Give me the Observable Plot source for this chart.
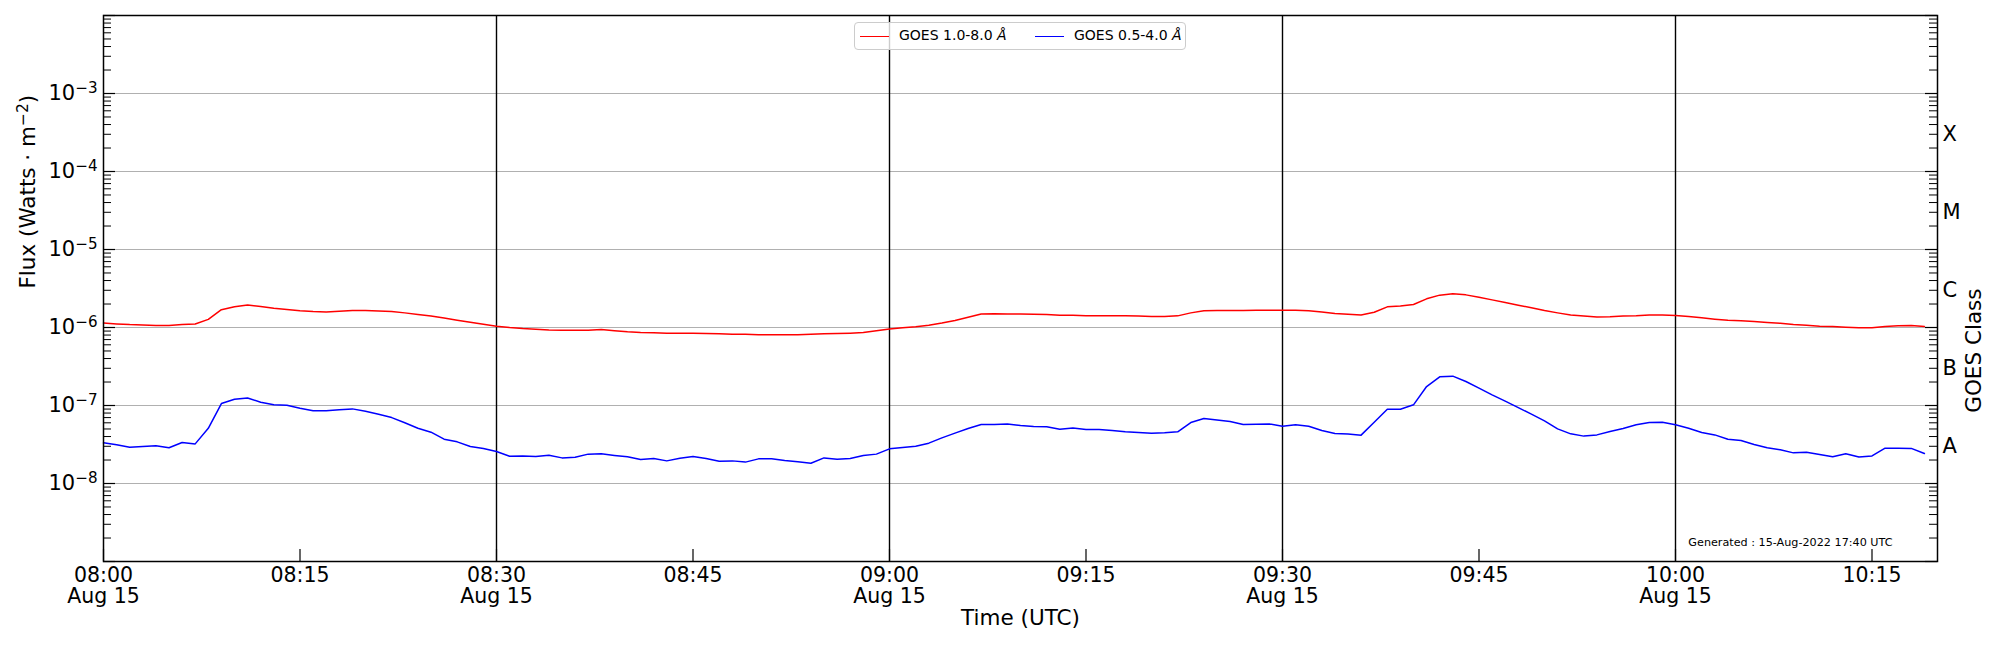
<!DOCTYPE html>
<html>
<head>
<meta charset="utf-8">
<script src="https://cdn.jsdelivr.net/npm/d3@7"></script>
<script src="https://cdn.jsdelivr.net/npm/@observablehq/plot@0.6"></script>
<style>
  body { margin: 0; background: #fff; font-family: "DejaVu Sans", sans-serif; }
  #wrap { position: relative; width: 2000px; height: 650px; }
  #legend {
    position: absolute; left: 854px; top: 22px; width: 330px; height: 26px;
    border: 1px solid #cccccc; border-radius: 4px; background: rgba(255,255,255,0.8);
    font-family: "DejaVu Sans", sans-serif; font-size: 14px; color: #000;
  }
  #legend .sw { position: absolute; top: 13px; width: 29px; height: 0; border-top: 1.5px solid; }
  #legend .lb { position: absolute; top: 4px; white-space: nowrap; line-height: 17px; }
</style>
</head>
<body>
<div id="wrap"></div>
<script>
// ---- data ----
const startTime = "2022-08-15T08:00:00Z";
const endTime = "2022-08-15T10:20:00Z";
const cadenceMs = 60000; // 1-minute GOES averages

// GOES 1.0-8.0 Å, in units of 1e-6 W/m^2
const longFluxE6 = [
  1.14,1.11,1.09,1.08,1.06,1.06,1.09,1.11,1.27,1.69,
  1.85,1.94,1.86,1.76,1.70,1.64,1.60,1.58,1.61,1.65,
  1.65,1.63,1.60,1.54,1.47,1.40,1.32,1.24,1.17,1.10,
  1.04,1.00,0.97,0.95,0.93,0.92,0.92,0.92,0.94,0.91,
  0.88,0.86,0.855,0.845,0.845,0.845,0.837,0.83,0.82,0.82,
  0.81,0.81,0.81,0.81,0.82,0.83,0.837,0.845,0.86,0.91,
  0.96,0.99,1.02,1.07,1.14,1.23,1.35,1.49,1.50,1.49,
  1.49,1.48,1.47,1.44,1.44,1.41,1.41,1.41,1.41,1.40,
  1.38,1.38,1.41,1.54,1.64,1.65,1.65,1.65,1.67,1.67,
  1.67,1.67,1.64,1.58,1.51,1.48,1.45,1.57,1.84,1.88,
  1.97,2.33,2.60,2.70,2.62,2.45,2.26,2.09,1.93,1.79,
  1.65,1.54,1.45,1.40,1.36,1.37,1.40,1.41,1.45,1.45,
  1.43,1.38,1.33,1.28,1.24,1.22,1.19,1.16,1.13,1.09,
  1.07,1.04,1.03,1.01,0.99,0.99,1.03,1.05,1.06,1.03
];
// GOES 0.5-4.0 Å, in units of 1e-7 W/m^2
const shortFluxE7 = [
  0.332,0.313,0.292,0.298,0.305,0.287,0.335,0.322,0.51,1.06,
  1.20,1.25,1.10,1.02,1.01,0.92,0.855,0.855,0.88,0.905,
  0.846,0.774,0.70,0.60,0.51,0.455,0.37,0.342,0.298,0.281,
  0.257,0.224,0.226,0.222,0.23,0.213,0.217,0.238,0.24,0.229,
  0.22,0.203,0.209,0.195,0.211,0.222,0.209,0.193,0.195,0.188,
  0.207,0.207,0.197,0.19,0.182,0.213,0.205,0.209,0.229,0.238,
  0.278,0.29,0.30,0.329,0.385,0.442,0.507,0.57,0.57,0.58,
  0.554,0.538,0.533,0.497,0.513,0.493,0.493,0.478,0.46,0.45,
  0.442,0.446,0.46,0.605,0.681,0.65,0.624,0.57,0.576,0.58,
  0.543,0.565,0.543,0.478,0.438,0.43,0.417,0.611,0.897,0.897,
  1.02,1.75,2.33,2.38,2.03,1.67,1.37,1.14,0.94,0.774,
  0.636,0.502,0.433,0.405,0.42,0.464,0.507,0.565,0.605,0.611,
  0.565,0.51,0.45,0.42,0.37,0.356,0.316,0.287,0.27,0.247,
  0.252,0.235,0.22,0.24,0.218,0.226,0.284,0.284,0.282,0.242
];

const seriesNames = ["GOES 1.0-8.0 Å", "GOES 0.5-4.0 Å"];
const seriesColors = ["red", "blue"];

const yTickValues = [1e-8, 1e-7, 1e-6, 1e-5, 1e-4, 1e-3];
const yTickLabels = ["10⁻⁸", "10⁻⁷", "10⁻⁶", "10⁻⁵", "10⁻⁴", "10⁻³"];

const xTickTimes = ["08:00","08:15","08:30","08:45","09:00","09:15","09:30","09:45","10:00","10:15"];
const xTickLabels = ["08:00\nAug 15","08:15","08:30\nAug 15","08:45","09:00\nAug 15","09:15","09:30\nAug 15","09:45","10:00\nAug 15","10:15"];
const dividerTimes = ["08:30","09:00","09:30","10:00"];

const classLabels = ["X", "M", "C", "B", "A"];
const classLevels = [10 ** -3.5, 10 ** -4.5, 10 ** -5.5, 10 ** -6.5, 10 ** -7.5];

const yAxisTitle = "Flux (Watts · m⁻²)";
const xAxisTitle = "Time (UTC)";
const rightAxisTitle = "GOES Class";
const generatedNote = "Generated : 15-Aug-2022 17:40 UTC";

// ---- build ----
const t0 = new Date(startTime);
const t1 = new Date(endTime);
const at = (hm) => new Date(`2022-08-15T${hm}:00Z`);
const longRows = longFluxE6.map((v, i) => ({ time: new Date(+t0 + i * cadenceMs), flux: v * 1e-6 }));
const shortRows = shortFluxE7.map((v, i) => ({ time: new Date(+t0 + i * cadenceMs), flux: v * 1e-7 }));

const W = 2000, H = 650, ML = 103, MR = 63, MT = 15, MB = 89;
const PW = W - ML - MR, PH = H - MT - MB;

const majorTicks = d3.range(-9, -1).map((k) => 10 ** k);
const minorTicks = [];
for (let k = -9; k <= -3; k++) for (let m = 2; m <= 9; m++) minorTicks.push(m * 10 ** k);

const xTicks = xTickTimes.map(at);
const xLabelMap = new Map(xTicks.map((d, i) => [+d, xTickLabels[i]]));
const yLabelMap = new Map(yTickValues.map((d, i) => [d, yTickLabels[i]]));

const chart = Plot.plot({
  width: W, height: H,
  marginLeft: ML, marginRight: MR, marginTop: MT, marginBottom: MB,
  style: { fontFamily: "DejaVu Sans", fontSize: "20px", color: "black", background: "white", overflow: "visible" },
  x: { type: "utc", domain: [t0, t1] },
  y: { type: "log", domain: [1e-9, 1e-2] },
  marks: [
    Plot.ruleY(yTickValues, { stroke: "#b0b0b0", strokeWidth: 1.2 }),
    Plot.ruleX(dividerTimes.map(at), { stroke: "black", strokeWidth: 1.4 }),
    // inward ticks, left
    Plot.tickY(minorTicks, { y: (d) => d, insetRight: PW - 8, stroke: "black", strokeWidth: 1 }),
    Plot.tickY(majorTicks, { y: (d) => d, insetRight: PW - 12, stroke: "black", strokeWidth: 1.2 }),
    // inward ticks, right
    Plot.tickY(minorTicks, { y: (d) => d, insetLeft: PW - 8, stroke: "black", strokeWidth: 1 }),
    Plot.tickY(majorTicks, { y: (d) => d, insetLeft: PW - 12, stroke: "black", strokeWidth: 1.2 }),
    // inward ticks, bottom
    Plot.tickX(xTicks, { x: (d) => d, insetTop: PH - 12, stroke: "black", strokeWidth: 1.2 }),
    Plot.line(longRows, { x: "time", y: "flux", stroke: seriesColors[0], strokeWidth: 1.5 }),
    Plot.line(shortRows, { x: "time", y: "flux", stroke: seriesColors[1], strokeWidth: 1.5 }),
    Plot.frame({ stroke: "black", strokeWidth: 1.5 }),
    Plot.axisY({ ticks: yTickValues, tickSize: 0, tickPadding: 6, tickFormat: (d) => yLabelMap.get(d), label: null, fontSize: 21 }),
    Plot.axisX({ ticks: xTicks, tickSize: 0, tickPadding: 6, tickFormat: (d) => xLabelMap.get(+d), label: null, fontSize: 20.5, lineHeight: 1.02 }),
    Plot.text(classLabels, { y: classLevels, text: classLabels, frameAnchor: "right", dx: 5, textAnchor: "start", fontSize: 21, dy: 2 }),
    Plot.text([yAxisTitle], { text: (d) => d, frameAnchor: "left", dx: -75, rotate: -90, fontSize: 21.5 }),
    Plot.text([rightAxisTitle], { text: (d) => d, frameAnchor: "right", dx: 37, rotate: -90, fontSize: 21.5 }),
    Plot.text([xAxisTitle], { text: (d) => d, frameAnchor: "bottom", dy: 63, fontSize: 21.5 }),
    Plot.text([generatedNote], { text: (d) => d, frameAnchor: "bottom-right", dx: -45, dy: -16, textAnchor: "end", fontSize: 11.2 })
  ]
});

// turn Unicode superscripts into real raised tspans (matplotlib mathtext look)
const supMap = { "⁻": "−", "⁰": "0", "¹": "1", "²": "2", "³": "3", "⁴": "4", "⁵": "5", "⁶": "6", "⁷": "7", "⁸": "8", "⁹": "9" };
function supify(el) {
  const s = el.textContent;
  if (![...s].some((c) => c in supMap)) return;
  const runs = [];
  for (const c of s) {
    const sup = c in supMap;
    const last = runs[runs.length - 1];
    if (last && last.sup === sup) last.t += sup ? supMap[c] : c;
    else runs.push({ sup, t: sup ? supMap[c] : c });
  }
  while (el.firstChild) el.removeChild(el.firstChild);
  const ns = "http://www.w3.org/2000/svg";
  let raised = false;
  for (const r of runs) {
    const ts = document.createElementNS(ns, "tspan");
    ts.textContent = r.t;
    if (r.sup) { ts.setAttribute("dy", "-0.45em"); ts.setAttribute("font-size", "0.72em"); raised = true; }
    else if (raised) { ts.setAttribute("dy", "0.324em"); raised = false; }
    el.appendChild(ts);
  }
}
chart.querySelectorAll("text").forEach(supify);

const wrap = document.getElementById("wrap");
wrap.appendChild(chart);

// legend
const legend = document.createElement("div");
legend.id = "legend";
const swX = [5, 180], lbX = [44, 219];
seriesNames.forEach((name, i) => {
  const sw = document.createElement("div");
  sw.className = "sw";
  sw.style.left = swX[i] + "px";
  sw.style.borderTopColor = seriesColors[i];
  const lb = document.createElement("div");
  lb.className = "lb";
  lb.style.left = lbX[i] + "px";
  lb.innerHTML = name.replace("Å", "<i>Å</i>");
  legend.appendChild(sw);
  legend.appendChild(lb);
});
wrap.appendChild(legend);
</script>
</body>
</html>
